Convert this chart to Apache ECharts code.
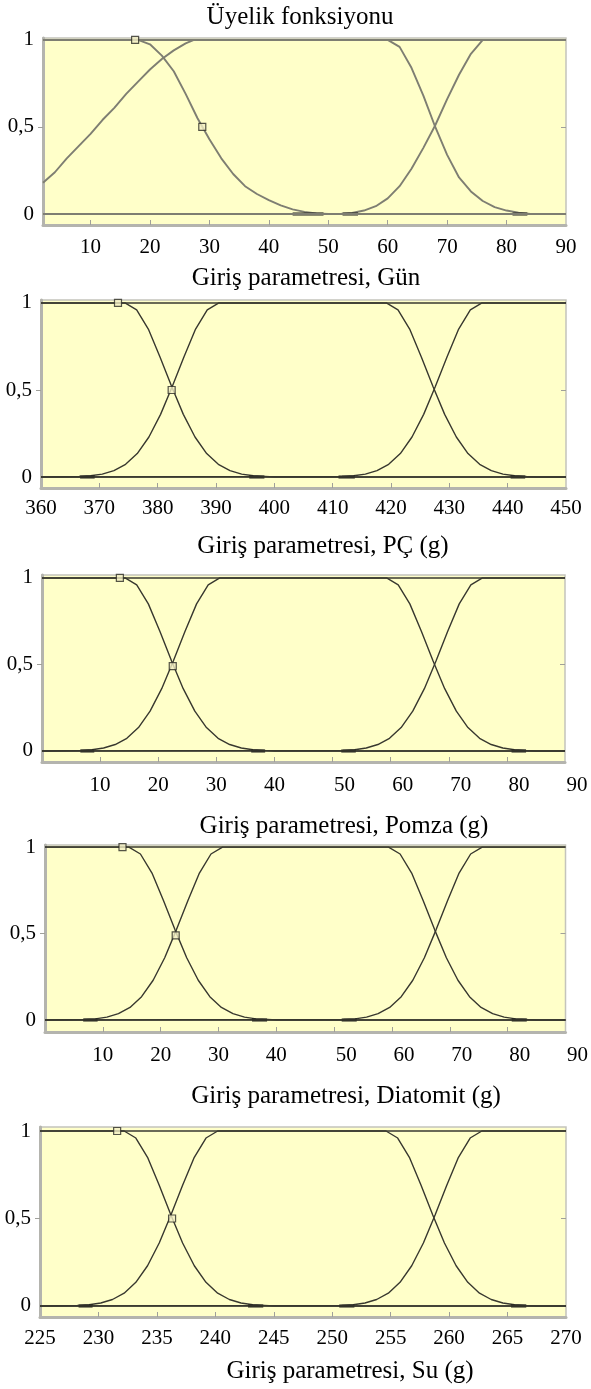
<!DOCTYPE html>
<html>
<head>
<meta charset="utf-8">
<title>Üyelik fonksiyonu</title>
<script src="https://cdn.jsdelivr.net/npm/echarts@6/dist/echarts.min.js"></script>
<style>
html,body{margin:0;padding:0;background:#fff;}
#main{width:591px;height:1389px;}
</style>
</head>
<body>
<div id="main"></div>
<script>
// ---- membership curves ----
var gunMF1 = [[2,1],[18,1],[20,0.975],[22,0.91],[24,0.82],[26,0.69],[28,0.55],[30,0.43],[32,0.32],[34,0.23],[36,0.16],[38,0.115],[40,0.08],[42,0.05],[44,0.027],[46,0.012],[48,0.004],[50,0],[90,0]];
var gunMF2 = [[2,0.18],[4,0.24],[6,0.32],[8,0.39],[10,0.46],[12,0.54],[14,0.61],[16,0.69],[18,0.76],[20,0.83],[22,0.89],[24,0.94],[26,0.98],[27.4,1],[60,1],[62,0.96],[64,0.84],[66,0.68],[68,0.5],[70,0.34],[72,0.21],[74,0.13],[76,0.075],[78,0.04],[80,0.02],[82,0.008],[84,0],[90,0]];
var gunMF3 = [[2,0],[52,0],[54,0.006],[56,0.02],[58,0.045],[60,0.09],[62,0.16],[64,0.26],[66,0.38],[68,0.51],[70,0.66],[72,0.8],[74,0.92],[76,1],[90,1]];

var pcMF1 = [[360,1],[374.4,1],[376.4,0.96],[378.4,0.85],[380.4,0.69],[382.4,0.52],[384.4,0.36],[386.4,0.23],[388.4,0.135],[390.4,0.073],[392.4,0.037],[394.4,0.017],[396.4,0.007],[398.4,0.003],[400,0],[450,0]];
var pcMF2 = [[360,0],[366.5,0.003],[368.5,0.007],[370.5,0.017],[372.5,0.037],[374.5,0.073],[376.5,0.135],[378.5,0.23],[380.5,0.36],[382.5,0.52],[384.5,0.69],[386.5,0.85],[388.5,0.96],[390.5,1],[419.2,1],[421.2,0.96],[423.2,0.85],[425.2,0.69],[427.2,0.52],[429.2,0.36],[431.2,0.23],[433.2,0.135],[435.2,0.073],[437.2,0.037],[439.2,0.017],[441.2,0.007],[443.2,0.003],[445,0],[450,0]];
var pcMF3 = [[360,0],[411.6,0.003],[413.6,0.007],[415.6,0.017],[417.6,0.037],[419.6,0.073],[421.6,0.135],[423.6,0.23],[425.6,0.36],[427.6,0.52],[429.6,0.69],[431.6,0.85],[433.6,0.96],[435.6,1],[450,1]];

var pomzaMF1 = [[0,1],[14.3,1],[16.3,0.96],[18.3,0.85],[20.3,0.69],[22.3,0.52],[24.3,0.36],[26.3,0.23],[28.3,0.135],[30.3,0.073],[32.3,0.037],[34.3,0.017],[36.3,0.007],[38.3,0.003],[40,0],[90,0]];
var pomzaMF2 = [[0,0],[6.6,0.003],[8.6,0.007],[10.6,0.017],[12.6,0.037],[14.6,0.073],[16.6,0.135],[18.6,0.23],[20.6,0.36],[22.6,0.52],[24.6,0.69],[26.6,0.85],[28.6,0.96],[30.6,1],[59.3,1],[61.3,0.96],[63.3,0.85],[65.3,0.69],[67.3,0.52],[69.3,0.36],[71.3,0.23],[73.3,0.135],[75.3,0.073],[77.3,0.037],[79.3,0.017],[81.3,0.007],[83.3,0.003],[85,0],[90,0]];
var pomzaMF3 = [[0,0],[51.8,0.003],[53.8,0.007],[55.8,0.017],[57.8,0.037],[59.8,0.073],[61.8,0.135],[63.8,0.23],[65.8,0.36],[67.8,0.52],[69.8,0.69],[71.8,0.85],[73.8,0.96],[75.8,1],[90,1]];

var diaMF1 = [[0,1],[14.5,1],[16.5,0.96],[18.5,0.85],[20.5,0.69],[22.5,0.52],[24.5,0.36],[26.5,0.23],[28.5,0.135],[30.5,0.073],[32.5,0.037],[34.5,0.017],[36.5,0.007],[38.5,0.003],[40,0],[90,0]];
var diaMF2 = [[0,0],[6.7,0.003],[8.7,0.007],[10.7,0.017],[12.7,0.037],[14.7,0.073],[16.7,0.135],[18.7,0.23],[20.7,0.36],[22.7,0.52],[24.7,0.69],[26.7,0.85],[28.7,0.96],[30.7,1],[59.4,1],[61.4,0.96],[63.4,0.85],[65.4,0.69],[67.4,0.52],[69.4,0.36],[71.4,0.23],[73.4,0.135],[75.4,0.073],[77.4,0.037],[79.4,0.017],[81.4,0.007],[83.4,0.003],[85,0],[90,0]];
var diaMF3 = [[0,0],[51.6,0.003],[53.6,0.007],[55.6,0.017],[57.6,0.037],[59.6,0.073],[61.6,0.135],[63.6,0.23],[65.6,0.36],[67.6,0.52],[69.6,0.69],[71.6,0.85],[73.6,0.96],[75.6,1],[90,1]];

var suMF1 = [[225,1],[232.2,1],[233.2,0.96],[234.2,0.85],[235.2,0.69],[236.2,0.52],[237.2,0.36],[238.2,0.23],[239.2,0.135],[240.2,0.073],[241.2,0.037],[242.2,0.017],[243.2,0.007],[244.2,0.003],[245,0],[270,0]];
var suMF2 = [[225,0],[228.2,0.003],[229.2,0.007],[230.2,0.017],[231.2,0.037],[232.2,0.073],[233.2,0.135],[234.2,0.23],[235.2,0.36],[236.2,0.52],[237.2,0.69],[238.2,0.85],[239.2,0.96],[240.2,1],[254.6,1],[255.6,0.96],[256.6,0.85],[257.6,0.69],[258.6,0.52],[259.6,0.36],[260.6,0.23],[261.6,0.135],[262.6,0.073],[263.6,0.037],[264.6,0.017],[265.6,0.007],[266.6,0.003],[267.5,0],[270,0]];
var suMF3 = [[225,0],[250.8,0.003],[251.8,0.007],[252.8,0.017],[253.8,0.037],[254.8,0.073],[255.8,0.135],[256.8,0.23],[257.8,0.36],[258.8,0.52],[259.8,0.69],[260.8,0.85],[261.8,0.96],[262.8,1],[270,1]];

// square markers of the selected function
var gunMarkers = [[17.5,1],[28.8,0.5]];
var pcMarkers = [[373.2,1],[382.4,0.5]];
var pomzaMarkers = [[13.4,1],[22.5,0.49]];
var diaMarkers = [[13.4,1],[22.6,0.49]];
var suMarkers = [[231.6,1],[236.3,0.5]];

// short dark pieces on the zero line [from, to]
var gunZero = [[44,49.2],[52.4,55],[81,83.5]];
var pcZero = [[366.7,369.2],[395.7,398.3],[411,413.8],[440.5,443]];
var pomzaZero = [[6.6,9],[36,38.4],[51.5,54],[80.8,83.3]];
var diaZero = [[6.6,9.1],[35.8,38.4],[51.3,53.9],[80.7,83.3]];
var suZero = [[228.3,229.5],[242.8,244.1],[250.6,251.9],[265.3,266.6]];

// ticks and tick labels
var gunTicks = [10,20,30,40,50,60,70,80];
var gunLabels = [10,20,30,40,50,60,70,80,90];
var pcTicks = [370,380,390,400,410,420,430,440];
var pcLabels = [360,370,380,390,400,410,420,430,440,450];
var gTicks = [10,20,30,40,50,60,70,80];
var gLabels = [10,20,30,40,50,60,70,80,90];
var suTicks = [230,235,240,245,250,255,260,265];
var suLabels = [225,230,235,240,245,250,255,260,265,270];
var yLabels = [0,0.5,1];
var levelLines = [0,1];

var mainTitle = 'Üyelik fonksiyonu';
var SERIF = '"Liberation Serif","Times New Roman",serif';

/**
 * one entry per small plot
 */
var panels = [
	{name:'Giriş parametresi, Gün', mfs:[gunMF1,gunMF2,gunMF3], markers:gunMarkers, zero:gunZero,
	 ticks:gunTicks, labels:gunLabels, xMin:2, xMax:90, yMin:-0.063, yMax:1.011,
	 grid:{left:43, top:38, width:523, height:187}, margin:12, nameX:306, nameY:278, color:'#7e7e72', width:1.9, shift:false},
	{name:'Giriş parametresi, PÇ (g)', mfs:[pcMF1,pcMF2,pcMF3], markers:pcMarkers, zero:pcZero,
	 ticks:pcTicks, labels:pcLabels, xMin:360, xMax:450, yMin:-0.063, yMax:1.017,
	 grid:{left:41, top:300, width:525, height:188}, margin:10, nameX:323, nameY:546, color:'#38382f', width:1.4, shift:false},
	{name:'Giriş parametresi, Pomza (g)', mfs:[pomzaMF1,pomzaMF2,pomzaMF3], markers:pomzaMarkers, zero:pomzaZero,
	 ticks:gTicks, labels:gLabels, xMin:0, xMax:90, yMin:-0.064, yMax:1.017,
	 grid:{left:42, top:575, width:523, height:187}, margin:13, nameX:344, nameY:826, color:'#38382f', width:1.4, shift:true},
	{name:'Giriş parametresi, Diatomit (g)', mfs:[diaMF1,diaMF2,diaMF3], markers:diaMarkers, zero:diaZero,
	 ticks:gTicks, labels:gLabels, xMin:0, xMax:90, yMin:-0.069, yMax:1.012,
	 grid:{left:45, top:845, width:522, height:187}, margin:13, nameX:346, nameY:1096, color:'#38382f', width:1.4, shift:true},
	{name:'Giriş parametresi, Su (g)', mfs:[suMF1,suMF2,suMF3], markers:suMarkers, zero:suZero,
	 ticks:suTicks, labels:suLabels, xMin:225, xMax:270, yMin:-0.063, yMax:1.023,
	 grid:{left:40, top:1127, width:526, height:190}, margin:11, nameX:350, nameY:1371, color:'#38382f', width:1.4, shift:false}
];

var grids = [], xAxes = [], yAxes = [], series = [];
var graphics = [{type:'text', x:300, y:17, style:{text:mainTitle, font:'25px ' + SERIF, fill:'#000', textAlign:'center', textVerticalAlign:'middle'}}];

for(var i=0;i<panels.length;i++){
	var p = panels[i];
	grids.push({left:p.grid.left, top:p.grid.top, width:p.grid.width, height:p.grid.height,
		show:true, backgroundColor:'#ffffc9', borderColor:'#c4c4bc', borderWidth:1.5});
	xAxes.push({
		type:'value', gridIndex:i, min:p.xMin, max:p.xMax,
		axisLine:{show:true, onZero:false, lineStyle:{color:'#b4b4ae', width:3}},
		axisTick:{show:true, inside:true, length:5, customValues:p.ticks, lineStyle:{color:'#a0a09a', width:1}},
		axisLabel:{customValues:p.labels, margin:p.margin, color:'#000', fontFamily:SERIF, fontSize:21,
			formatter:(function(shift){
				return function(v){ return (shift && v>=50) ? '{s|' + v + '}' : String(v); };
			})(p.shift),
			rich:{s:{fontFamily:SERIF, fontSize:21, color:'#000', padding:[0,0,0,24]}}},
		splitLine:{show:false}
	});
	// left axis with labels
	yAxes.push({
		type:'value', gridIndex:i, min:p.yMin, max:p.yMax, position:'left',
		axisLine:{show:true, lineStyle:{color:'#b4b4ae', width:3}},
		axisTick:{show:true, length:5, customValues:[0.5], lineStyle:{color:'#a0a09a'}},
		axisLabel:{customValues:yLabels, margin:9, color:'#000', fontFamily:SERIF, fontSize:21,
			formatter:function(v){ return v===0.5 ? '0,5' : String(v); }},
		splitLine:{show:false}
	});
	// right axis, only the small inside tick at 0.5
	yAxes.push({
		type:'value', gridIndex:i, min:p.yMin, max:p.yMax, position:'right',
		axisLine:{show:false},
		axisTick:{show:true, inside:true, length:5, customValues:[0.5], lineStyle:{color:'#a0a09a'}},
		axisLabel:{show:false},
		splitLine:{show:false}
	});
	for(var k=0;k<p.mfs.length;k++){
		var s = {
			type:'line', xAxisIndex:i, yAxisIndex:2*i, data:p.mfs[k], showSymbol:false, symbol:'none',
			lineStyle:{color:p.color, width:p.width}, silent:true, z:3
		};
		if(k==0){
			s.markLine = {silent:true, symbol:'none', label:{show:false},
				lineStyle:{color:p.color, width:p.width + 0.3, type:'solid'},
				data:levelLines.map(function(v){ return {yAxis:v}; })};
		}
		series.push(s);
	}
	for(var z=0;z<p.zero.length;z++){
		series.push({type:'line', xAxisIndex:i, yAxisIndex:2*i, symbol:'none',
			data:[[p.zero[z][0],0],[p.zero[z][1],0]],
			lineStyle:{color:'#1e1e1a', width:3}, silent:true, z:4});
	}
	series.push({type:'scatter', xAxisIndex:i, yAxisIndex:2*i, data:p.markers, symbol:'rect', symbolSize:7,
		itemStyle:{color:'#f2efc4', borderColor:'#2a2a24', borderWidth:1.2}, silent:true, z:5});
	graphics.push({type:'text', x:p.nameX, y:p.nameY,
		style:{text:p.name, font:'25px ' + SERIF, fill:'#000', textAlign:'center', textVerticalAlign:'middle'}});
}

var myChart = echarts.init(document.getElementById('main'), null, {renderer:'canvas'});
myChart.setOption({
	animation:false,
	backgroundColor:'#ffffff',
	grid:grids,
	xAxis:xAxes,
	yAxis:yAxes,
	series:series,
	graphic:graphics
});
</script>
</body>
</html>
